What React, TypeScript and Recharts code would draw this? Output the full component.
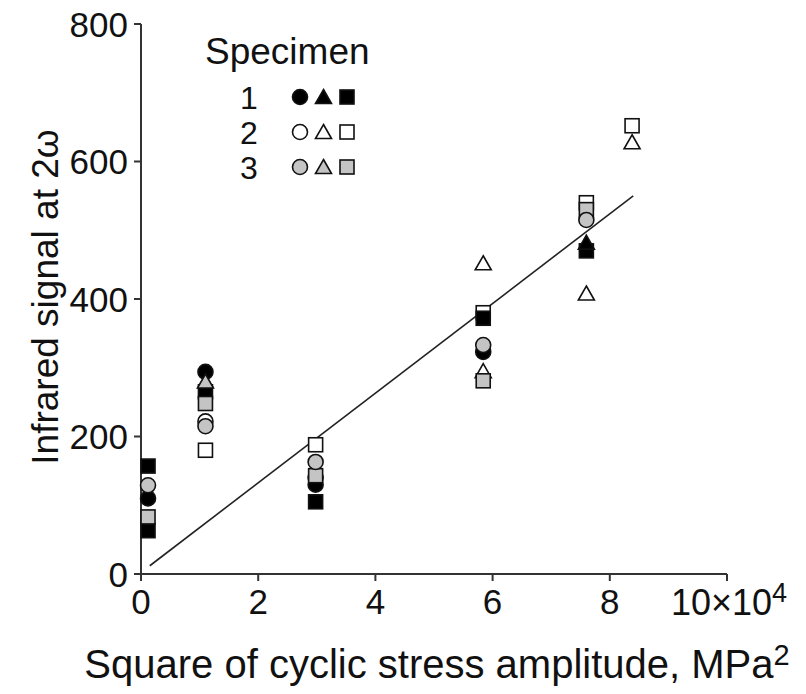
import React from 'react';
import {
  ScatterChart,
  Scatter,
  XAxis,
  YAxis,
  ReferenceLine,
} from 'recharts';

// Specimen 1 (solid black)
const spec1Circles = [
  { x: 0.12, y: 110 },
  { x: 1.1, y: 294 },
  { x: 2.98, y: 130 },
  { x: 5.84, y: 323 },
];
const spec1Triangles = [{ x: 7.6, y: 482 }];
const spec1Squares = [
  { x: 0.12, y: 157 },
  { x: 0.12, y: 63 },
  { x: 1.1, y: 265 },
  { x: 2.98, y: 105 },
  { x: 5.84, y: 372 },
  { x: 7.6, y: 470 },
];

// Specimen 2 (open)
const spec2Circles = [
  { x: 1.1, y: 222 },
  { x: 2.98, y: 140 },
];
const spec2Triangles = [
  { x: 5.84, y: 452 },
  { x: 5.84, y: 295 },
  { x: 7.6, y: 408 },
  { x: 8.38, y: 628 },
];
const spec2Squares = [
  { x: 1.1, y: 180 },
  { x: 2.98, y: 188 },
  { x: 5.84, y: 380 },
  { x: 7.6, y: 540 },
  { x: 8.38, y: 652 },
];

// Specimen 3 (grey)
const spec3Circles = [
  { x: 0.12, y: 129 },
  { x: 1.1, y: 215 },
  { x: 2.98, y: 163 },
  { x: 5.84, y: 333 },
  { x: 7.6, y: 515 },
];
const spec3Triangles = [{ x: 1.1, y: 280 }];
const spec3Squares = [
  { x: 0.12, y: 83 },
  { x: 1.1, y: 248 },
  { x: 2.98, y: 143 },
  { x: 5.84, y: 281 },
  { x: 7.6, y: 530 },
];

// least-squares line as drawn in the figure
const fitLine = [
  { x: 0.15, y: 12 },
  { x: 8.4, y: 550 },
];

const xTicks = [0, 2, 4, 6, 8, 10];
const yTicks = [0, 200, 400, 600, 800];
const specimenLabels = ['1', '2', '3'];

const FONT = '"Liberation Sans", Arial, Helvetica, sans-serif';
const INK = '#111';
const GREY = '#c4c4c4';

type Kind = 'circle' | 'triangle' | 'square';

// draw one marker centred on cx, cy
function marker(kind: Kind, fill: string, cx: number, cy: number, key?: string) {
  if (kind === 'circle') {
    return <circle key={key} cx={cx} cy={cy} r={7.5} fill={fill} stroke={INK} strokeWidth={1.6} />;
  }
  if (kind === 'square') {
    return <rect key={key} x={cx - 7} y={cy - 7} width={14} height={14} fill={fill} stroke={INK} strokeWidth={1.6} />;
  }
  const h = 7.5;
  return (
    <polygon
      key={key}
      points={`${cx},${cy - h} ${cx + 8},${cy + h - 1} ${cx - 8},${cy + h - 1}`}
      fill={fill}
      stroke={INK}
      strokeWidth={1.6}
    />
  );
}

const shapeFor = (kind: Kind, fill: string) => (props: any) => marker(kind, fill, props.cx, props.cy);

const XTick = ({ x, y, payload }: any) => {
  if (payload.value === 10) {
    return (
      <text x={x - 56} y={y} dy="0.71em" fontFamily={FONT} fontSize={36} fill={INK}>
        <tspan>10×10</tspan>
        <tspan dy="-0.45em" fontSize={27}>4</tspan>
      </text>
    );
  }
  return (
    <text x={x} y={y} dy="0.71em" textAnchor="middle" fontFamily={FONT} fontSize={35} fill={INK}>
      {payload.value}
    </text>
  );
};

const YTick = ({ x, y, payload }: any) => (
  <text x={x} y={y} dy="0.36em" textAnchor="end" fontFamily={FONT} fontSize={35} fill={INK}>
    {payload.value}
  </text>
);

const XTitle = () => (
  <text x={437} y={678} textAnchor="middle" fontFamily={FONT} fontSize={40} fill={INK}>
    <tspan>Square of cyclic stress amplitude, MPa</tspan>
    <tspan dy="-0.45em" fontSize={29}>2</tspan>
  </text>
);

const YTitle = () => (
  <text
    x={58}
    y={297}
    transform="rotate(-90, 58, 297)"
    textAnchor="middle"
    fontFamily={FONT}
    fontSize={37}
    fill={INK}
  >
    Infrared signal at 2ω
  </text>
);

const legendFills = ['#000', '#fff', GREY];
const legendKinds: Kind[] = ['circle', 'triangle', 'square'];

function SpecimenLegend() {
  return (
    <svg width={806} height={694} style={{ position: 'absolute', left: 0, top: 0, pointerEvents: 'none' }}>
      <text x={205} y={64} fontFamily={FONT} fontSize={37} fill={INK}>
        Specimen
      </text>
      {specimenLabels.map((lab, i) => {
        const cy = 97 + i * 35;
        return (
          <g key={lab}>
            <text x={249} y={cy + 12} textAnchor="middle" fontFamily={FONT} fontSize={32} fill={INK}>
              {lab}
            </text>
            {legendKinds.map((k, j) => marker(k, legendFills[i], 300 + j * 23.5, cy, `${lab}-${k}`))}
          </g>
        );
      })}
    </svg>
  );
}

export default function App() {
  return (
    <div style={{ position: 'absolute', left: 0, top: 0, width: 806, height: 694, background: '#fff' }}>
      <ScatterChart width={806} height={694} margin={{ top: 24, right: 79, bottom: 0, left: 0 }}>
        <XAxis
          type="number"
          dataKey="x"
          domain={[0, 10]}
          ticks={xTicks}
          height={120}
          tickSize={7}
          tickMargin={8}
          axisLine={{ stroke: '#333', strokeWidth: 2 }}
          tickLine={{ stroke: '#333', strokeWidth: 2 }}
          tick={<XTick />}
          label={<XTitle />}
        />
        <YAxis
          type="number"
          dataKey="y"
          domain={[0, 800]}
          ticks={yTicks}
          width={141}
          tickSize={7}
          tickMargin={6}
          axisLine={{ stroke: '#333', strokeWidth: 2 }}
          tickLine={{ stroke: '#333', strokeWidth: 2 }}
          tick={<YTick />}
          label={<YTitle />}
        />
        <ReferenceLine segment={fitLine} stroke="#222" strokeWidth={1.6} ifOverflow="visible" />
        <Scatter data={spec2Squares} shape={shapeFor('square', '#fff')} isAnimationActive={false} />
        <Scatter data={spec2Triangles} shape={shapeFor('triangle', '#fff')} isAnimationActive={false} />
        <Scatter data={spec2Circles} shape={shapeFor('circle', '#fff')} isAnimationActive={false} />
        <Scatter data={spec1Squares} shape={shapeFor('square', '#000')} isAnimationActive={false} />
        <Scatter data={spec1Triangles} shape={shapeFor('triangle', '#000')} isAnimationActive={false} />
        <Scatter data={spec1Circles} shape={shapeFor('circle', '#000')} isAnimationActive={false} />
        <Scatter data={spec3Squares} shape={shapeFor('square', GREY)} isAnimationActive={false} />
        <Scatter data={spec3Triangles} shape={shapeFor('triangle', GREY)} isAnimationActive={false} />
        <Scatter data={spec3Circles} shape={shapeFor('circle', GREY)} isAnimationActive={false} />
      </ScatterChart>
      <SpecimenLegend />
    </div>
  );
}
